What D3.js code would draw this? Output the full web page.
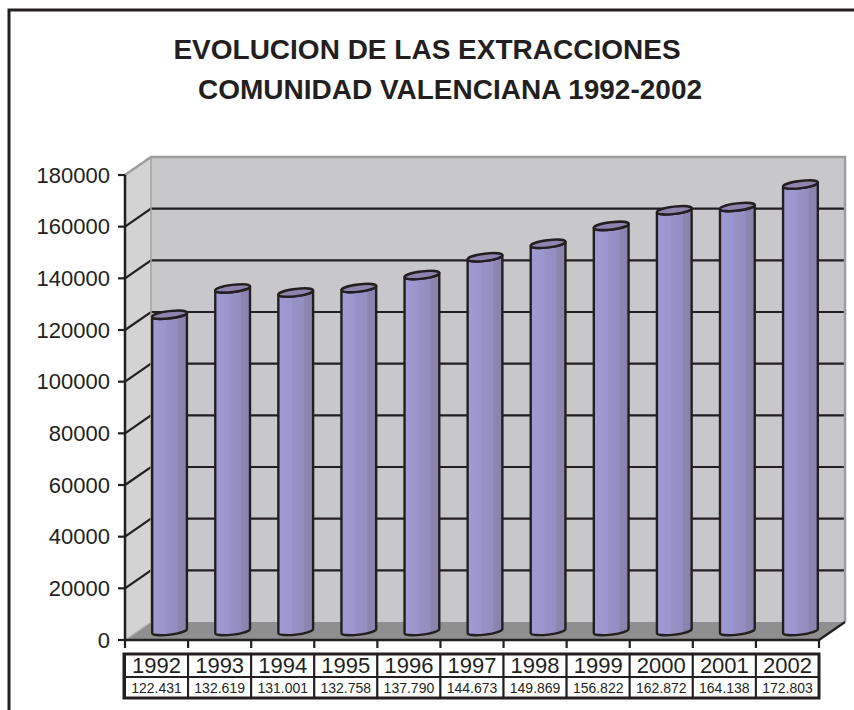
<!DOCTYPE html>
<html>
<head>
<meta charset="utf-8">
<script src="https://cdn.jsdelivr.net/npm/d3@7"></script>
<style>
  body { margin: 0; background: #fff; }
  svg { display: block; font-family: "Liberation Sans", Arial, sans-serif; }
</style>
</head>
<body>
<svg id="chart" width="854" height="710"></svg>
<script>
// data
const years = ["1992","1993","1994","1995","1996","1997","1998","1999","2000","2001","2002"];
const extracciones = [122431, 132619, 131001, 132758, 137790, 144673, 149869, 156822, 162872, 164138, 172803];
const yTicks = [0, 20000, 40000, 60000, 80000, 100000, 120000, 140000, 160000, 180000];
const titleLines = ["EVOLUCION DE LAS EXTRACCIONES", "COMUNIDAD VALENCIANA 1992-2002"];

const svg = d3.select("#chart");
const esFormat = d3.formatLocale({decimal: ",", thousands: ".", grouping: [3], currency: ["", "€"]}).format(",");

// 3d depth offset of the back wall
const dx = 26, dy = -18;

const x = d3.scaleBand().domain(years).range([125, 819]).padding(0);
const y = d3.scaleLinear().domain([0, 180000]).range([640, 175]);
const x0 = x.range()[0], x1 = x.range()[1];
const yBase = y(0), yTop = y(180000);

// outer frame (right and bottom run off the page)
svg.append("rect")
  .attr("x", 9).attr("y", 10).attr("width", 900).attr("height", 800)
  .attr("fill", "none").attr("stroke", "#231f20").attr("stroke-width", 3);

// title, second line sits a bit to the right like the original
svg.append("g").selectAll("text")
  .data(titleLines)
  .enter().append("text")
    .attr("x", (d, i) => i == 0 ? 427 : 450)
    .attr("y", (d, i) => 59 + i * 40)
    .attr("text-anchor", "middle")
    .attr("font-weight", "bold")
    .attr("font-size", 28)
    .attr("fill", "#231f20")
    .text(d => d);

const defs = svg.append("defs");
const grad = defs.append("linearGradient").attr("id", "barGrad").attr("x1", 0).attr("x2", 1).attr("y1", 0).attr("y2", 0);
[["0%", "#a09cd3"], ["38%", "#9b96cd"], ["42%", "#9791c6"], ["72%", "#958ec2"], ["76%", "#8c85b0"], ["100%", "#8a83ab"]]
  .forEach(s => grad.append("stop").attr("offset", s[0]).attr("stop-color", s[1]));

const walls = svg.append("g");
// left side wall
walls.append("path")
  .attr("d", `M${x0},${yBase}L${x0},${yTop}L${x0 + dx},${yTop + dy}L${x0 + dx},${yBase + dy}Z`)
  .attr("fill", "#d3d3d4");
// back wall
walls.append("rect")
  .attr("x", x0 + dx).attr("y", yTop + dy)
  .attr("width", x1 - x0).attr("height", yBase - yTop)
  .attr("fill", "#c8c8ca");
// floor
walls.append("path")
  .attr("d", `M${x0},${yBase}L${x0 + dx},${yBase + dy}L${x1 + dx},${yBase + dy}L${x1},${yBase}Z`)
  .attr("fill", "#8f8f90");

// gridlines on back wall and side wall
const inner = yTicks.filter(t => t > 0 && t < 180000);
walls.selectAll(".grid")
  .data(inner)
  .enter().append("path")
    .attr("class", "grid")
    .attr("d", t => `M${x0},${y(t)}L${x0 + dx},${y(t) + dy}L${x1 + dx},${y(t) + dy}`)
    .attr("fill", "none")
    .attr("stroke", "#231f20")
    .attr("stroke-width", 2.2);

// wall edges
walls.append("path")
  .attr("d", `M${x0},${yTop}L${x0 + dx},${yTop + dy}L${x1 + dx},${yTop + dy}L${x1 + dx},${yBase + dy}`)
  .attr("fill", "none").attr("stroke", "#9d9d9e").attr("stroke-width", 2.5);
walls.append("line")
  .attr("x1", x0 + dx).attr("x2", x0 + dx).attr("y1", yTop + dy).attr("y2", yBase + dy)
  .attr("stroke", "#a3a3a4").attr("stroke-width", 1.5);
walls.append("line")
  .attr("x1", x0).attr("y1", yBase).attr("x2", x0 + dx).attr("y2", yBase + dy)
  .attr("stroke", "#b5b5b6").attr("stroke-width", 1.2);
walls.append("line")
  .attr("x1", x1).attr("y1", yBase).attr("x2", x1 + dx).attr("y2", yBase + dy)
  .attr("stroke", "#231f20").attr("stroke-width", 2.2);

// cylinders
const bw = 35, rx = bw / 2, ry = 3.6, rot = -7;
const rad = rot * Math.PI / 180;
const ox = rx * Math.cos(rad), oy = rx * Math.sin(rad);

const bars = svg.append("g").selectAll("g")
  .data(years.map((yr, i) => ({year: yr, value: extracciones[i]})))
  .enter().append("g");

bars.append("path")
  .attr("d", d => {
    const cx = x(d.year) + x.bandwidth() / 2 + dx / 2;
    const yt = y(d.value) + dy / 2, yb = yBase + dy / 2;
    return `M${cx - ox},${yt - oy}L${cx - ox},${yb - oy}` +
      `A${rx},${ry} ${rot} 0 0 ${cx + ox},${yb + oy}` +
      `L${cx + ox},${yt + oy}` +
      `A${rx},${ry} ${rot} 0 1 ${cx - ox},${yt - oy}Z`;
  })
  .attr("fill", "url(#barGrad)")
  .attr("stroke", "#231f20")
  .attr("stroke-width", 2.4)
  .attr("stroke-linejoin", "round");

bars.append("ellipse")
  .attr("cx", 0).attr("cy", 0).attr("rx", rx).attr("ry", ry)
  .attr("transform", d => `translate(${x(d.year) + x.bandwidth() / 2 + dx / 2},${y(d.value) + dy / 2}) rotate(${rot})`)
  .attr("fill", "#8d85ad")
  .attr("stroke", "#231f20")
  .attr("stroke-width", 2.4);

// y axis
const axis = svg.append("g");
axis.append("line")
  .attr("x1", x0).attr("x2", x0).attr("y1", yTop).attr("y2", yBase)
  .attr("stroke", "#231f20").attr("stroke-width", 2.5);
axis.append("line")
  .attr("x1", x0).attr("x2", x1).attr("y1", yBase).attr("y2", yBase)
  .attr("stroke", "#231f20").attr("stroke-width", 2.5);
axis.selectAll(".ytick")
  .data(yTicks)
  .enter().append("line")
    .attr("x1", x0 - 7).attr("x2", x0)
    .attr("y1", d => y(d)).attr("y2", d => y(d))
    .attr("stroke", "#231f20").attr("stroke-width", 2.2);
axis.selectAll(".ylab")
  .data(yTicks)
  .enter().append("text")
    .attr("x", x0 - 15)
    .attr("y", d => y(d))
    .attr("dy", "0.35em")
    .attr("text-anchor", "end")
    .attr("font-size", 22)
    .attr("fill", "#231f20")
    .text(d => d);

// category ticks under the floor
const bounds = years.map(yr => x(yr)).concat([x1]);
axis.selectAll(".xtick")
  .data(bounds)
  .enter().append("line")
    .attr("x1", d => d).attr("x2", d => d)
    .attr("y1", yBase).attr("y2", yBase + 8)
    .attr("stroke", "#231f20").attr("stroke-width", 2.2);

// data table
const tTop = 654, tMid = 677, tBot = 698;
const table = svg.append("g");
const cells = table.selectAll("g")
  .data(years.map((yr, i) => ({year: yr, value: extracciones[i]})))
  .enter().append("g");
cells.append("rect")
  .attr("x", d => x(d.year)).attr("y", tTop)
  .attr("width", x.bandwidth()).attr("height", tMid - tTop)
  .attr("fill", "#fff").attr("stroke", "#231f20").attr("stroke-width", 2);
cells.append("rect")
  .attr("x", d => x(d.year)).attr("y", tMid)
  .attr("width", x.bandwidth()).attr("height", tBot - tMid)
  .attr("fill", "#fff").attr("stroke", "#231f20").attr("stroke-width", 2);
cells.append("text")
  .attr("x", d => x(d.year) + x.bandwidth() / 2)
  .attr("y", 673)
  .attr("text-anchor", "middle")
  .attr("font-size", 22)
  .attr("fill", "#231f20")
  .text(d => d.year);
cells.append("text")
  .attr("x", d => x(d.year) + x.bandwidth() / 2)
  .attr("y", 693)
  .attr("text-anchor", "middle")
  .attr("font-size", 14)
  .attr("fill", "#231f20")
  .text(d => esFormat(d.value));
table.append("rect")
  .attr("x", x0 - 1).attr("y", tTop).attr("width", x1 - x0 + 1).attr("height", tBot - tTop)
  .attr("fill", "none").attr("stroke", "#231f20").attr("stroke-width", 3);
</script>
</body>
</html>
